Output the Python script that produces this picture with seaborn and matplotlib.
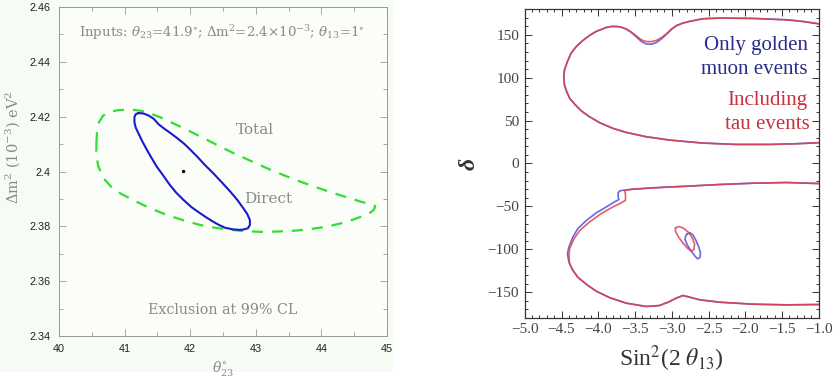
import numpy as np
import pandas as pd
import matplotlib
matplotlib.use("Agg")
import matplotlib.pyplot as plt
from matplotlib.patches import Rectangle
from matplotlib.font_manager import FontProperties
import seaborn as sns

# ---------------- Left panel data ----------------
direct_x = [41.21, 41.28, 41.36, 41.44, 41.52, 41.60, 41.70, 41.80, 41.90, 42.00, 42.10, 42.22, 42.35, 42.48,
            42.61, 42.72, 42.81, 42.87, 42.91, 42.91, 42.88, 42.82, 42.76, 42.65, 42.53, 42.44, 42.35, 42.25,
            42.15, 42.02, 41.90, 41.79, 41.69, 41.59, 41.49, 41.41, 41.34, 41.27, 41.21, 41.17, 41.15, 41.15,
            41.17, 41.21]
direct_y = [2.4213, 2.4212, 2.4205, 2.4193, 2.4172, 2.4157, 2.4140, 2.4122, 2.4103, 2.4080, 2.4056, 2.4025,
            2.3994, 2.3961, 2.3927, 2.3896, 2.3866, 2.3845, 2.3823, 2.3805, 2.3793, 2.3789, 2.3787, 2.3789,
            2.3795, 2.3805, 2.3817, 2.3832, 2.3848, 2.3870, 2.3896, 2.3922, 2.3951, 2.3985, 2.4018, 2.4050,
            2.4079, 2.4110, 2.4140, 2.4160, 2.4180, 2.4198, 2.4209, 2.4213]
total_x = [40.57, 40.58, 40.61, 40.67, 40.76, 40.88, 41.00, 41.13, 41.26, 41.39, 41.55, 41.74, 41.95, 42.15,
           42.40, 42.66, 42.92, 43.17, 43.42, 43.68, 43.94, 44.19, 44.40, 44.59, 44.72, 44.82, 44.80, 44.72,
           44.60, 44.49, 44.30, 44.08, 43.83, 43.58, 43.32, 43.07, 42.80, 42.56, 42.35, 42.15, 41.90, 41.64,
           41.38, 41.13, 40.95, 40.80, 40.68, 40.60, 40.57, 40.57]
total_y = [2.4103, 2.4145, 2.4180, 2.4203, 2.4216, 2.4223, 2.4225, 2.4225, 2.4221, 2.4212, 2.4197, 2.4176,
           2.4152, 2.4128, 2.4098, 2.4067, 2.4039, 2.4012, 2.3987, 2.3963, 2.3941, 2.3921, 2.3905, 2.3891,
           2.3882, 2.3874, 2.3860, 2.3846, 2.3835, 2.3825, 2.3811, 2.3799, 2.3790, 2.3784, 2.3781, 2.3780,
           2.3783, 2.3789, 2.3796, 2.3805, 2.3822, 2.3842, 2.3867, 2.3896, 2.3918, 2.3943, 2.3975, 2.4018,
           2.4060, 2.4103]
input_pt = (41.9, 2.40)
left_xticks = [40, 41, 42, 43, 44, 45]
left_yticks = [2.34, 2.36, 2.38, 2.40, 2.42, 2.44, 2.46]
left_yticklabels = ["2.34", "2.36", "2.38", "2.4", "2.42", "2.44", "2.46"]

# ---------------- Right panel data ----------------
up_x = [-1.00, -1.22, -1.44, -1.90, -2.35, -2.58, -2.76, -2.85, -2.94, -3.01, -3.07, -3.14, -3.21, -3.28,
        -3.35, -3.41, -3.48, -3.55, -3.62, -3.69, -3.75, -3.82, -3.89, -3.96, -4.03, -4.12, -4.21, -4.30,
        -4.37, -4.42, -4.46, -4.47, -4.46, -4.43, -4.39, -4.32, -4.23, -4.12, -3.98, -3.80, -3.62, -3.35,
        -3.03, -2.58, -2.12, -1.67, -1.31, -1.00]
up_blue_y = [162.8, 165.6, 167.5, 169.1, 169.5, 168.7, 165.6, 163.6, 160.5, 155.8, 150.8, 145.3, 141.0, 139.0,
             139.4, 142.0, 147.3, 152.7, 156.6, 158.9, 159.7, 159.7, 158.6, 156.2, 153.9, 149.2, 143.4, 136.3,
             128.6, 118.8, 109.1, 101.3, 91.5, 83.8, 76.0, 69.0, 61.2, 54.5, 47.5, 40.9, 36.2, 31.2,
             27.3, 23.8, 22.2, 22.2, 23.0, 24.2]
up_red_y = [162.8, 165.6, 167.5, 169.1, 169.5, 168.7, 165.6, 163.6, 160.8, 156.5, 151.5, 146.8, 143.5, 142.0,
            142.2, 144.0, 148.5, 153.2, 156.8, 158.9, 159.7, 159.7, 158.6, 156.2, 153.9, 149.2, 143.4, 136.3,
            128.6, 118.8, 109.1, 101.3, 91.5, 83.8, 76.0, 69.0, 61.2, 54.5, 47.5, 40.9, 36.2, 31.2,
            27.3, 23.8, 22.2, 22.2, 23.0, 24.2]
lo_blue_x = [-1.00, -1.44, -1.90, -2.35, -2.80, -3.26, -3.53, -3.66, -3.71, -3.73, -3.73, -3.72, -3.78, -3.89,
             -4.03, -4.16, -4.28, -4.35, -4.40, -4.42, -4.40, -4.35, -4.28, -4.16, -4.03, -3.84, -3.62, -3.35,
             -3.17, -3.05, -2.94, -2.85, -2.76, -2.62, -2.35, -1.90, -1.44, -1.00]
lo_blue_y = [-23.4, -22.2, -23.0, -24.5, -26.5, -28.4, -30.0, -31.2, -31.9, -34.3, -39.0, -42.1, -44.8, -50.6,
             -57.7, -66.2, -76.0, -86.5, -97.4, -105.2, -114.9, -123.9, -132.5, -141.0, -148.8, -156.6, -162.8,
             -166.7, -165.6, -161.7, -157.0, -153.9, -155.8, -158.9, -161.7, -164.0, -164.8, -164.4]
lo_red_x = [-1.00, -1.44, -1.90, -2.35, -2.80, -3.26, -3.53, -3.62, -3.64, -3.63, -3.63, -3.69, -3.80, -3.96,
            -4.12, -4.25, -4.33, -4.39, -4.40, -4.39, -4.35, -4.28, -4.16, -4.03, -3.84, -3.62, -3.35, -3.17,
            -3.05, -2.94, -2.85, -2.76, -2.62, -2.35, -1.90, -1.44, -1.00]
lo_red_y = [-23.4, -22.2, -23.0, -24.5, -26.5, -28.4, -30.0, -31.0, -31.9, -35.8, -42.9, -46.0, -50.6, -58.4,
            -68.2, -77.9, -87.6, -99.3, -107.1, -116.9, -123.9, -132.5, -141.0, -148.8, -156.6, -162.8, -166.7,
            -165.6, -161.7, -157.0, -153.9, -155.8, -158.9, -161.7, -164.0, -164.8, -164.4]
isl_blue_x = [-2.79, -2.75, -2.71, -2.67, -2.63, -2.61, -2.62, -2.65, -2.69, -2.74, -2.79, -2.82, -2.81, -2.79]
isl_blue_y = [-82.0, -80.8, -83.5, -90.0, -98.0, -105.0, -110.0, -111.0, -107.5, -101.5, -95.0, -88.5, -84.0, -82.0]
isl_red_x = [-2.95, -2.90, -2.84, -2.77, -2.72, -2.69, -2.70, -2.74, -2.79, -2.85, -2.91, -2.95, -2.95]
isl_red_y = [-75.0, -73.5, -75.5, -80.5, -87.0, -94.0, -100.5, -102.0, -98.5, -92.5, -85.5, -79.0, -75.0]
right_xticks = [-5.0, -4.5, -4.0, -3.5, -3.0, -2.5, -2.0, -1.5, -1.0]
right_yticks = [-150, -100, -50, 0, 50, 100, 150]

sns.set_theme(style="white")
plt.rcParams["font.family"] = ["Liberation Sans", "DejaVu Sans"]

fig = plt.figure(figsize=(8.33, 3.78), dpi=100)
fig.patches.append(Rectangle((0, 0.015), 0.472, 0.985, transform=fig.transFigure,
                             facecolor="#f6fbf3", edgecolor="none", zorder=-10))

# ---------- Left axes ----------
axL = fig.add_axes([0.0708, 0.111, 0.3938, 0.8705])
axL.set_facecolor("#fafdf8")
sns.lineplot(x=total_x, y=total_y, sort=False, ax=axL, color="#33dd33", lw=1.6,
             linestyle=(0, (5, 4)), estimator=None)
sns.lineplot(x=direct_x, y=direct_y, sort=False, ax=axL, color="#1a1acc", lw=1.5, estimator=None)
sns.scatterplot(x=[input_pt[0]], y=[input_pt[1]], ax=axL, color="black", s=6, edgecolor="none")
axL.set_xlim(40, 45)
axL.set_ylim(2.34, 2.46)
axL.set_xticks(left_xticks)
axL.set_xticklabels([str(t) for t in left_xticks])
axL.set_yticks(left_yticks)
axL.set_yticklabels(left_yticklabels)
axL.set_xticks(np.arange(40.5, 45, 1.0), minor=True)
axL.set_yticks(np.arange(2.35, 2.46, 0.02), minor=True)
axL.tick_params(which="both", direction="in", top=True, right=True, bottom=True, left=True,
                color="#999999", width=0.6)
axL.tick_params(which="major", length=5, labelsize=7.8, labelcolor="#222222", pad=6)
axL.tick_params(which="minor", length=3)
for sp in axL.spines.values():
    sp.set_color("#999999")
    sp.set_linewidth(0.7)
gray = "#8a8a8a"
axL.set_xlabel(r"$\theta^{\circ}_{23}$", color=gray, fontsize=10, labelpad=3, math_fontfamily="dejavuserif")
axL.set_ylabel(r"$\Delta$m$^2$ (10$^{-3}$) eV$^2$", color=gray, fontsize=10.5, family="DejaVu Serif",
               math_fontfamily="dejavuserif")
axL.yaxis.set_label_coords(-0.113, 0.574)
axL.text(42.48, 2.4505, r"Inputs: $\theta_{23}$=41.9$^{\circ}$; $\Delta$m$^2$=2.4$\times$10$^{-3}$; $\theta_{13}$=1$^{\circ}$",
         ha="center", va="center", color=gray, fontsize=9.6, family="DejaVu Serif",
         math_fontfamily="dejavuserif")
axL.text(42.99, 2.4152, "Total", ha="center", va="center", color=gray, fontsize=11, family="DejaVu Serif")
axL.text(43.19, 2.3898, "Direct", ha="center", va="center", color=gray, fontsize=11, family="DejaVu Serif")
axL.text(42.5, 2.3495, "Exclusion at 99% CL", ha="center", va="center", color=gray, fontsize=10.3,
         family="DejaVu Serif")

# ---------- Right axes ----------
plt.rcParams["font.family"] = ["Liberation Serif", "DejaVu Serif"]
axR = fig.add_axes([0.630, 0.159, 0.353, 0.817])
blue = "#4d4ddf"
red = "#e0404a"
for xs, ys, c in [(up_x, up_blue_y, blue), (lo_blue_x, lo_blue_y, blue), (isl_blue_x, isl_blue_y, blue),
                  (up_x, up_red_y, red), (lo_red_x, lo_red_y, red), (isl_red_x, isl_red_y, red)]:
    sns.lineplot(x=xs, y=ys, sort=False, ax=axR, color=c, lw=1.2, estimator=None, alpha=0.85)
axR.set_xlim(-5.0, -1.0)
axR.set_ylim(-180, 180)
axR.set_xticks(right_xticks)
axR.set_xticklabels([("\u2212" + f"{abs(t):.1f}") for t in right_xticks])
axR.set_yticks(right_yticks)
axR.set_yticklabels([("\u2212" + str(abs(t))) if t < 0 else str(t) for t in right_yticks])
axR.set_xticks(np.arange(-5.0, -0.99, 0.1), minor=True)
axR.set_yticks(np.arange(-180, 181, 10), minor=True)
axR.tick_params(which="both", direction="in", top=True, right=True, bottom=True, left=True,
                color="#333333", width=0.7)
axR.tick_params(which="major", length=5, labelsize=11, labelcolor="#444444", pad=4)
axR.tick_params(which="minor", length=2.5)
serif_fp = FontProperties(family="Liberation Serif", size=11)
for lab in axR.get_xticklabels() + axR.get_yticklabels():
    lab.set_fontproperties(serif_fp)
for sp in axR.spines.values():
    sp.set_color("#333333")
    sp.set_linewidth(0.9)
axR.set_xlabel(r"Sin$^2$(2 $\theta_{13}$)", fontsize=17, color="#333333", family="Liberation Serif",
               labelpad=5, math_fontfamily="stix")
axR.set_ylabel("\u03b4", fontsize=17, color="#333333", labelpad=6, family="Liberation Serif",
               fontstyle="italic", fontweight="bold")
axR.text(-1.15, 138, "Only golden", color="#2b2b8c", fontsize=15, ha="right", va="center",
         family="Liberation Serif")
axR.text(-1.15, 109, "muon events", color="#2b2b8c", fontsize=15, ha="right", va="center",
         family="Liberation Serif")
axR.text(-1.15, 74, "Including", color="#c8303c", fontsize=15, ha="right", va="center",
         family="Liberation Serif")
axR.text(-1.13, 45, "tau events", color="#c8303c", fontsize=15, ha="right", va="center",
         family="Liberation Serif")

fig.savefig("out.png", dpi=100)
